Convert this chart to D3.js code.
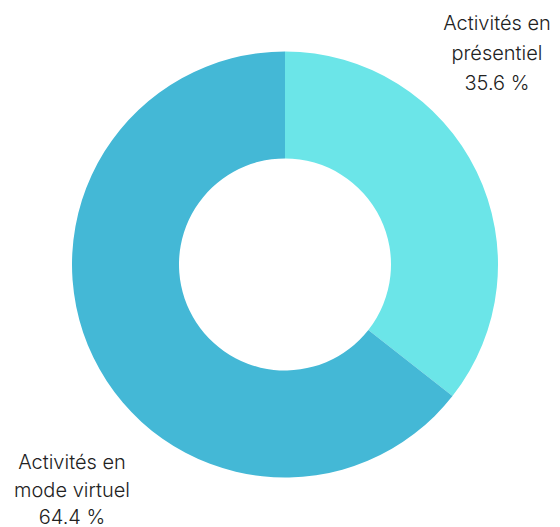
<!DOCTYPE html>
<html lang="fr">
	<head>
		<meta charset="utf-8">
		<title>Activités</title>
		<script src="https://d3js.org/d3.v7.min.js"></script>
		<style type="text/css">
			body { margin: 0; background: #fff; }
			text { font-family: Inter, "Noto Sans", sans-serif; fill: #222; font-weight: 300; }
		</style>
	</head>
	<body>
		<script type="text/javascript">
			var w = 560;
			var h = 527;

			// data
			var categories = ["Activités en présentiel", "Activités en mode virtuel"];
			var values = [35.6, 64.4];
			var labelLines = [["Activités en", "présentiel", "35.6 %"], ["Activités en", "mode virtuel", "64.4 %"]];
			var colors = ["#6be5e8", "#44b8d6"];

			var cx = 285, cy = 264.5;
			var outerR = 213, innerR = 106;

			var svg = d3.select("body")
						.append("svg")
						.attr("width", w)
						.attr("height", h);

			var pie = d3.pie().sort(null).value(function(d){ return d; });
			var arc = d3.arc().innerRadius(innerR).outerRadius(outerR);

			var g = svg.append("g").attr("transform", "translate(" + cx + "," + cy + ")");

			g.selectAll("path")
				.data(pie(values))
				.enter()
				.append("path")
				.attr("d", arc)
				.style("fill", function(d,i){ return colors[i]; });

			// labels
			var labelPos = [[497, 30], [72, 469]];
			var lineH = [30, 27.5];

			labelLines.forEach(function(lines, i){
				var t = svg.append("text")
					.attr("x", labelPos[i][0])
					.attr("y", labelPos[i][1])
					.attr("text-anchor", "middle")
					.style("font-size", "20px");
				t.selectAll("tspan")
					.data(lines)
					.enter()
					.append("tspan")
					.attr("x", labelPos[i][0])
					.attr("dy", function(d,j){ return j == 0 ? 0 : lineH[i]; })
					.text(function(d){ return d; });
			});
		</script>
	</body>
</html>
